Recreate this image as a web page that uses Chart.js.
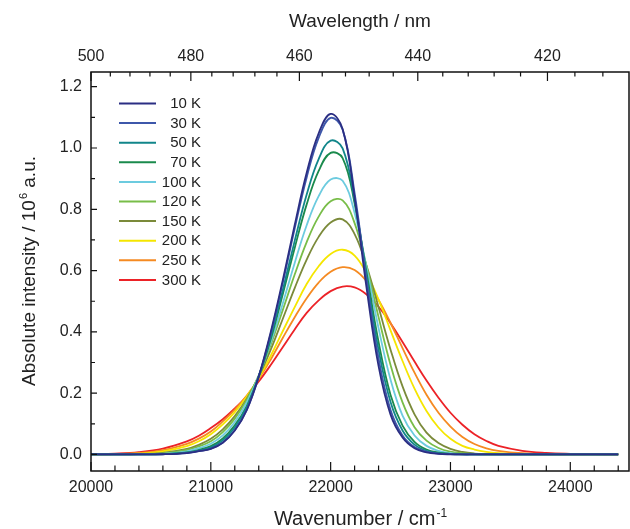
<!DOCTYPE html>
<html>
<head>
<meta charset="utf-8">
<script src="https://cdn.jsdelivr.net/npm/chart.js@4.4.0/dist/chart.umd.min.js"></script>
<style>
  html, body { margin: 0; padding: 0; background: #fff; }
</style>
</head>
<body>
<canvas id="canvas" width="630" height="529"></canvas>
<script>
'use strict';

// wavenumber grid, cm-1
var wavenumber = [20000, 20200, 20400, 20600, 20800, 20900, 21000, 21100, 21200, 21300,
    21400, 21500, 21600, 21700, 21800, 21900, 22000, 22100, 22200, 22300,
    22400, 22500, 22600, 22700, 22800, 22900, 23000, 23100, 23200, 23300,
    23400, 23600, 23800, 24000, 24200, 24400];

// absolute intensity / 10^6 a.u., one array per temperature
var k10 = [0, 0, 0, 0.0006, 0.0044, 0.0105, 0.018, 0.038, 0.078, 0.145, 0.255, 0.400, 0.568, 0.749, 0.919, 1.048, 1.111, 1.062, 0.838, 0.543, 0.288, 0.130, 0.055, 0.020, 0.007, 0.002, 0.0005, 0, 0, 0, 0, 0, 0, 0, 0, 0];
var k30 = [0, 0, 0, 0.0007, 0.0046, 0.0108, 0.019, 0.039, 0.079, 0.146, 0.254, 0.394, 0.559, 0.737, 0.904, 1.033, 1.098, 1.060, 0.853, 0.568, 0.313, 0.145, 0.062, 0.024, 0.009, 0.003, 0.001, 0, 0, 0, 0, 0, 0, 0, 0, 0];
var k50 = [0, 0, 0.0001, 0.0009, 0.0058, 0.0129, 0.023, 0.046, 0.088, 0.155, 0.255, 0.385, 0.536, 0.697, 0.848, 0.964, 1.024, 0.999, 0.828, 0.578, 0.341, 0.171, 0.078, 0.032, 0.012, 0.004, 0.0015, 0.0005, 0, 0, 0, 0, 0, 0, 0, 0];
var k70 = [0, 0, 0.0002, 0.0012, 0.0069, 0.0148, 0.027, 0.052, 0.095, 0.158, 0.254, 0.376, 0.522, 0.674, 0.816, 0.925, 0.984, 0.967, 0.819, 0.593, 0.367, 0.194, 0.094, 0.041, 0.016, 0.006, 0.002, 0.0007, 0, 0, 0, 0, 0, 0, 0, 0];
var k100 = [0, 0, 0.0004, 0.0022, 0.0104, 0.0206, 0.035, 0.062, 0.106, 0.170, 0.257, 0.366, 0.492, 0.625, 0.748, 0.843, 0.897, 0.893, 0.788, 0.609, 0.412, 0.244, 0.127, 0.062, 0.028, 0.012, 0.004, 0.0015, 0.0005, 0, 0, 0, 0, 0, 0, 0];
var k120 = [0, 0.0001, 0.0008, 0.0037, 0.0145, 0.0265, 0.043, 0.073, 0.117, 0.178, 0.258, 0.358, 0.471, 0.587, 0.693, 0.776, 0.826, 0.829, 0.755, 0.614, 0.448, 0.292, 0.170, 0.089, 0.045, 0.021, 0.009, 0.004, 0.0015, 0.0005, 0, 0, 0, 0, 0, 0];
var k150 = [0, 0.0003, 0.0013, 0.0052, 0.0180, 0.0315, 0.051, 0.082, 0.125, 0.182, 0.254, 0.342, 0.442, 0.543, 0.636, 0.710, 0.757, 0.767, 0.719, 0.615, 0.480, 0.342, 0.222, 0.131, 0.071, 0.037, 0.018, 0.008, 0.003, 0.0012, 0.0005, 0, 0, 0, 0, 0];
var k200 = [0.0002, 0.0008, 0.0030, 0.0097, 0.0272, 0.0430, 0.066, 0.098, 0.138, 0.189, 0.250, 0.322, 0.402, 0.481, 0.556, 0.614, 0.654, 0.668, 0.649, 0.591, 0.505, 0.405, 0.305, 0.215, 0.142, 0.088, 0.051, 0.028, 0.016, 0.0085, 0.0045, 0.001, 0.0003, 0, 0, 0];
var k250 = [0.0004, 0.0015, 0.0048, 0.0138, 0.0345, 0.0515, 0.075, 0.108, 0.146, 0.192, 0.246, 0.310, 0.380, 0.448, 0.510, 0.561, 0.596, 0.611, 0.602, 0.565, 0.504, 0.429, 0.347, 0.267, 0.195, 0.136, 0.091, 0.057, 0.034, 0.020, 0.012, 0.004, 0.001, 0.0004, 0, 0];
var k300 = [0.0009, 0.0027, 0.0075, 0.0190, 0.0425, 0.0610, 0.086, 0.115, 0.150, 0.190, 0.238, 0.292, 0.350, 0.408, 0.462, 0.503, 0.533, 0.548, 0.545, 0.522, 0.482, 0.428, 0.367, 0.303, 0.241, 0.185, 0.136, 0.097, 0.066, 0.044, 0.028, 0.012, 0.005, 0.002, 0.0008, 0.0003];

var temps = ['10 K', '30 K', '50 K', '70 K', '100 K', '120 K', '150 K', '200 K', '250 K', '300 K'];
var series = [k10, k30, k50, k70, k100, k120, k150, k200, k250, k300];
var colors = ['#2b2e83', '#3d57aa', '#11868a', '#1a8a4c', '#6ccbdf', '#78bd48', '#7b8a3a', '#f5e600', '#f58a22', '#ec2227'];

var xTicks = [20000, 21000, 22000, 23000, 24000];
var yTicks = [0.0, 0.2, 0.4, 0.6, 0.8, 1.0, 1.2];
var wavelengthTicks = [500, 480, 460, 440, 420];

var FONT = "'Liberation Sans', Arial, sans-serif";
var X_MIN = 20000, X_MAX = 24490;

var dataSets = series.map(function (s, i) {
    return {
        label: temps[i],
        data: s.map(function (v, j) { return {x: wavenumber[j], y: v}; }),
        borderColor: colors[i],
        borderWidth: 1.8,
        pointRadius: 0,
        fill: false,
        tension: 0.4
    };
});

function textWithSup(ctx, base, sup, after, x, y, size) {
    var small = Math.round(size * 0.6);
    ctx.font = size + 'px ' + FONT;
    var w1 = ctx.measureText(base).width;
    var w3 = ctx.measureText(after).width;
    ctx.font = small + 'px ' + FONT;
    var w2 = ctx.measureText(sup).width;
    var left = x - (w1 + w2 + w3) / 2;
    ctx.textAlign = 'left';
    ctx.textBaseline = 'alphabetic';
    ctx.font = size + 'px ' + FONT;
    ctx.fillText(base, left, y);
    ctx.font = small + 'px ' + FONT;
    ctx.fillText(sup, left + w1 + 1, y - size * 0.42);
    ctx.font = size + 'px ' + FONT;
    ctx.fillText(after, left + w1 + w2 + 1, y);
}

var frameAndDecor = {
    id: 'frameAndDecor',
    afterDraw: function (chart) {
        var ctx = chart.ctx, a = chart.chartArea, sx = chart.scales.x, sy = chart.scales.y;
        ctx.save();
        ctx.strokeStyle = '#111';
        ctx.lineWidth = 1.5;
        ctx.strokeRect(a.left, a.top, a.right - a.left, a.bottom - a.top);

        ctx.lineWidth = 1.2;
        ctx.beginPath();
        // bottom ticks, every 200 cm-1
        for (var v = 20000; v <= 24400; v += 200) {
            var px = sx.getPixelForValue(v);
            var len = v % 1000 === 0 ? 9 : 5.5;
            ctx.moveTo(px, a.bottom);
            ctx.lineTo(px, a.bottom - len);
        }
        // top ticks, every 4 nm
        for (var l = 500; l >= 408; l -= 4) {
            var pt = sx.getPixelForValue(1e7 / l);
            if (pt > a.right) continue;
            var lt = l % 20 === 0 ? 9 : 4.5;
            ctx.moveTo(pt, a.top);
            ctx.lineTo(pt, a.top + lt);
        }
        // left ticks, every 0.1
        for (var k = 0; k <= 12; k++) {
            var py = sy.getPixelForValue(k / 10);
            var ly = k % 2 === 0 ? 6 : 4;
            ctx.moveTo(a.left, py);
            ctx.lineTo(a.left + ly, py);
        }
        ctx.stroke();

        // legend
        ctx.font = '15px ' + FONT;
        ctx.textAlign = 'right';
        ctx.textBaseline = 'middle';
        temps.forEach(function (t, i) {
            var y = 103.5 + i * 19.6;
            ctx.beginPath();
            ctx.strokeStyle = colors[i];
            ctx.lineWidth = 2;
            ctx.moveTo(119, y);
            ctx.lineTo(156, y);
            ctx.stroke();
            ctx.fillStyle = '#222';
            ctx.fillText(t, 201, y + 0.5);
        });

        // axis titles
        ctx.fillStyle = '#222';
        var cx = (a.left + a.right) / 2;
        ctx.font = '19px ' + FONT;
        ctx.textAlign = 'center';
        ctx.textBaseline = 'alphabetic';
        ctx.fillText('Wavelength / nm', cx, 27);
        textWithSup(ctx, 'Wavenumber / cm', '-1', '', cx, 525, 20);

        ctx.translate(35, (a.top + a.bottom) / 2);
        ctx.rotate(-Math.PI / 2);
        textWithSup(ctx, 'Absolute intensity / 10', '6', ' a.u.', 0, 0, 19);
        ctx.restore();
    }
};

var tickFont = {family: FONT, size: 16};

var ctx = document.getElementById('canvas').getContext('2d');
window.myLine = new Chart(ctx, {
    type: 'line',
    data: {datasets: dataSets},
    options: {
        responsive: false,
        animation: false,
        devicePixelRatio: 1,
        layout: {padding: {left: 0, right: 1, top: 0, bottom: 0}},
        plugins: {legend: {display: false}, tooltip: {enabled: false}},
        scales: {
            x: {
                type: 'linear',
                position: 'bottom',
                min: X_MIN,
                max: X_MAX,
                afterBuildTicks: function (s) { s.ticks = xTicks.map(function (v) { return {value: v}; }); },
                afterFit: function (s) { s.height = 58; },
                grid: {display: false, drawTicks: false},
                border: {display: false},
                ticks: {font: tickFont, color: '#222', padding: 7, maxRotation: 0, autoSkip: false,
                    callback: function (v) { return String(v); }}
            },
            x2: {
                type: 'linear',
                position: 'top',
                display: true,
                min: X_MIN,
                max: X_MAX,
                afterBuildTicks: function (s) { s.ticks = wavelengthTicks.map(function (l) { return {value: 1e7 / l}; }); },
                afterFit: function (s) { s.height = 72; },
                grid: {display: false, drawTicks: false},
                border: {display: false},
                ticks: {font: tickFont, color: '#222', padding: 6, maxRotation: 0, autoSkip: false,
                    callback: function (v) { return String(Math.round(1e7 / v)); }}
            },
            y: {
                type: 'linear',
                min: -0.054,
                max: 1.248,
                afterBuildTicks: function (s) { s.ticks = yTicks.map(function (v) { return {value: v}; }); },
                afterFit: function (s) { s.width = 91; },
                grid: {display: false, drawTicks: false},
                border: {display: false},
                ticks: {font: tickFont, color: '#222', padding: 9, autoSkip: false,
                    callback: function (v) { return v.toFixed(1); }}
            }
        }
    },
    plugins: [frameAndDecor]
});
</script>
</body>
</html>
